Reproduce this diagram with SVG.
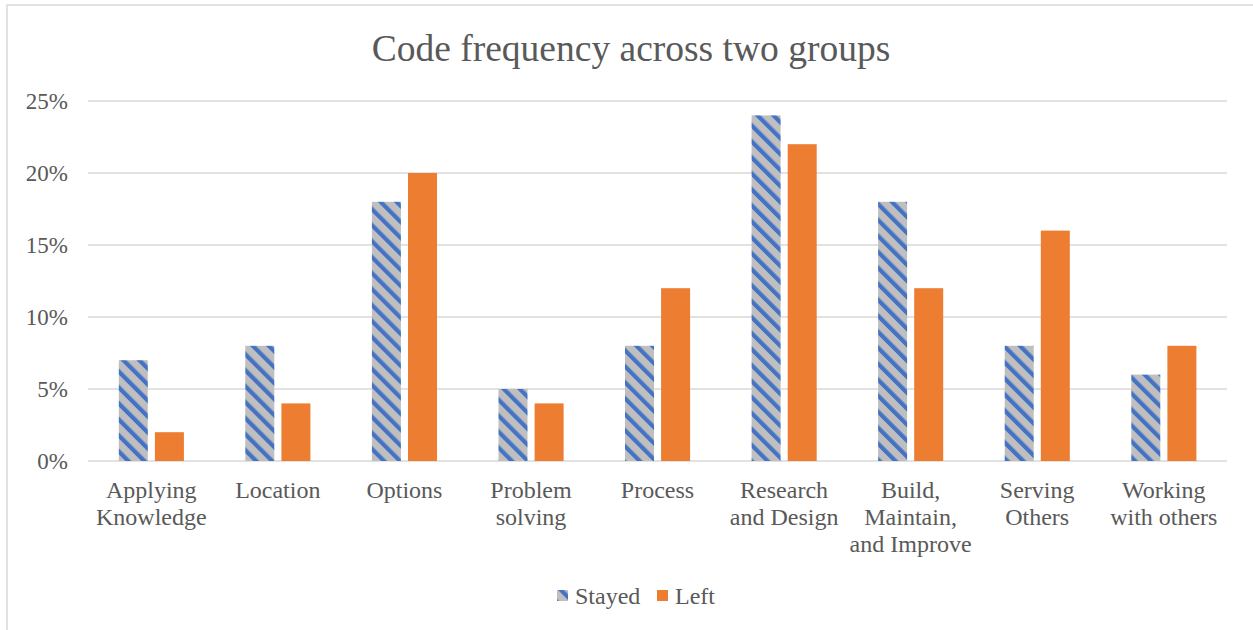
<svg xmlns="http://www.w3.org/2000/svg" width="1253" height="630" viewBox="0 0 1253 630">
<defs>
<pattern id="hatch" patternUnits="userSpaceOnUse" width="11.3" height="11.3" patternTransform="rotate(-45)">
<rect x="0" y="0" width="11.3" height="11.3" fill="#BFBFBF"/>
<rect x="0" y="0" width="4.2" height="11.3" fill="#4472C4"/>
</pattern>
<style>
text{font-family:"Liberation Serif","Times New Roman",serif;fill:#595959}
.title{font-size:37.5px}
.ax{font-size:23px;text-anchor:end}
.cat{font-size:24px;text-anchor:middle}
.leg{font-size:24px}
.grid{stroke:#D9D9D9;stroke-width:1.5;fill:none}
.st{fill:url(#hatch)}
.lf{fill:#ED7D31}
</style>
</defs>
<rect x="0" y="0" width="1253" height="630" fill="#FFFFFF"/>
<rect x="7" y="5" width="1260" height="640" fill="none" stroke="#D9D9D9" stroke-width="1.5"/>
<text class="title" x="631" y="61" text-anchor="middle">Code frequency across two groups</text>
<g id="gridlines">
<line class="grid" x1="88" y1="101" x2="1227" y2="101"/>
<line class="grid" x1="88" y1="173" x2="1227" y2="173"/>
<line class="grid" x1="88" y1="245" x2="1227" y2="245"/>
<line class="grid" x1="88" y1="317" x2="1227" y2="317"/>
<line class="grid" x1="88" y1="389" x2="1227" y2="389"/>
<line class="grid" x1="88" y1="461" x2="1227" y2="461"/>
</g>
<g id="y-axis">
<text class="ax" x="68" y="109">25%</text>
<text class="ax" x="68" y="181">20%</text>
<text class="ax" x="68" y="253">15%</text>
<text class="ax" x="68" y="325">10%</text>
<text class="ax" x="68" y="397">5%</text>
<text class="ax" x="68" y="469">0%</text>
</g>
<g id="bars-stayed">
<rect class="st" x="118.8" y="360.2" width="29" height="100.8"/>
<rect class="st" x="245.3" y="345.8" width="29" height="115.2"/>
<rect class="st" x="371.9" y="201.8" width="29" height="259.2"/>
<rect class="st" x="498.5" y="389" width="29" height="72"/>
<rect class="st" x="625.0" y="345.8" width="29" height="115.2"/>
<rect class="st" x="751.6" y="115.4" width="29" height="345.6"/>
<rect class="st" x="878.1" y="201.8" width="29" height="259.2"/>
<rect class="st" x="1004.7" y="345.8" width="29" height="115.2"/>
<rect class="st" x="1131.3" y="374.6" width="29" height="86.4"/>
</g>
<g id="bars-left">
<rect class="lf" x="154.9" y="432.2" width="29" height="28.8"/>
<rect class="lf" x="281.4" y="403.4" width="29" height="57.6"/>
<rect class="lf" x="408.0" y="173" width="29" height="288"/>
<rect class="lf" x="534.6" y="403.4" width="29" height="57.6"/>
<rect class="lf" x="661.1" y="288.2" width="29" height="172.8"/>
<rect class="lf" x="787.7" y="144.2" width="29" height="316.8"/>
<rect class="lf" x="914.2" y="288.2" width="29" height="172.8"/>
<rect class="lf" x="1040.8" y="230.6" width="29" height="230.4"/>
<rect class="lf" x="1167.4" y="345.8" width="29" height="115.2"/>
</g>
<g id="categories">
<text class="cat" x="151.3" y="498">Applying<tspan x="151.3" dy="27">Knowledge</tspan></text>
<text class="cat" x="277.8" y="498">Location</text>
<text class="cat" x="404.4" y="498">Options</text>
<text class="cat" x="531.0" y="498">Problem<tspan x="531.0" dy="27">solving</tspan></text>
<text class="cat" x="657.5" y="498">Process</text>
<text class="cat" x="784.1" y="498">Research<tspan x="784.1" dy="27">and Design</tspan></text>
<text class="cat" x="910.6" y="498">Build,<tspan x="910.6" dy="27">Maintain,</tspan><tspan x="910.6" dy="27">and Improve</tspan></text>
<text class="cat" x="1037.2" y="498">Serving<tspan x="1037.2" dy="27">Others</tspan></text>
<text class="cat" x="1163.8" y="498">Working<tspan x="1163.8" dy="27">with others</tspan></text>
</g>
<g id="legend">
<rect class="st" x="557" y="590" width="11" height="11"/>
<text class="leg" x="575" y="604">Stayed</text>
<rect class="lf" x="657" y="590" width="11" height="11"/>
<text class="leg" x="675" y="604">Left</text>
</g>
</svg>
